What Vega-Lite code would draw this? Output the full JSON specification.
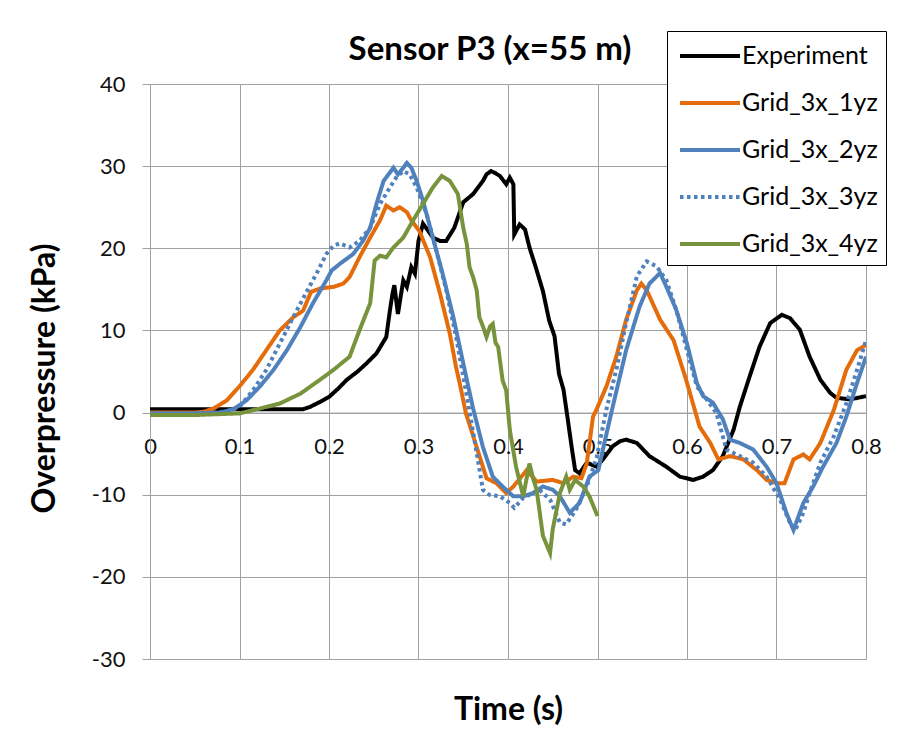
{
  "$schema": "https://vega.github.io/schema/vega-lite/v6.json",
  "width": 716,
  "height": 575,
  "autosize": {"type": "none"},
  "padding": {"left": 150, "top": 84, "right": 38, "bottom": 73},
  "background": "white",
  "title": {
    "text": "Sensor P3 (x=55 m)",
    "font": "Lato",
    "fontSize": 33,
    "fontWeight": "bold",
    "color": "black",
    "anchor": "middle",
    "dx": -18,
    "offset": -36
  },
  "data": {
    "values": [
      {"series": "Experiment", "time": 0, "pressure": 0.4},
      {"series": "Experiment", "time": 0.05, "pressure": 0.4},
      {"series": "Experiment", "time": 0.1, "pressure": 0.4},
      {"series": "Experiment", "time": 0.15, "pressure": 0.4},
      {"series": "Experiment", "time": 0.171, "pressure": 0.4},
      {"series": "Experiment", "time": 0.179, "pressure": 0.7},
      {"series": "Experiment", "time": 0.19, "pressure": 1.3},
      {"series": "Experiment", "time": 0.2, "pressure": 1.9},
      {"series": "Experiment", "time": 0.21, "pressure": 2.9},
      {"series": "Experiment", "time": 0.22, "pressure": 4.0},
      {"series": "Experiment", "time": 0.232, "pressure": 5.0},
      {"series": "Experiment", "time": 0.242, "pressure": 6.0},
      {"series": "Experiment", "time": 0.253, "pressure": 7.2},
      {"series": "Experiment", "time": 0.264, "pressure": 9.2},
      {"series": "Experiment", "time": 0.268, "pressure": 12.4},
      {"series": "Experiment", "time": 0.271, "pressure": 14.5},
      {"series": "Experiment", "time": 0.273, "pressure": 15.5},
      {"series": "Experiment", "time": 0.277, "pressure": 12.0},
      {"series": "Experiment", "time": 0.283, "pressure": 16.1},
      {"series": "Experiment", "time": 0.287, "pressure": 15.3},
      {"series": "Experiment", "time": 0.292, "pressure": 17.7},
      {"series": "Experiment", "time": 0.296, "pressure": 16.9},
      {"series": "Experiment", "time": 0.3, "pressure": 20.9},
      {"series": "Experiment", "time": 0.305, "pressure": 23.0},
      {"series": "Experiment", "time": 0.311, "pressure": 22.1},
      {"series": "Experiment", "time": 0.316, "pressure": 21.3},
      {"series": "Experiment", "time": 0.324, "pressure": 20.9},
      {"series": "Experiment", "time": 0.331, "pressure": 20.9},
      {"series": "Experiment", "time": 0.34, "pressure": 22.5},
      {"series": "Experiment", "time": 0.35, "pressure": 25.6},
      {"series": "Experiment", "time": 0.361, "pressure": 26.6},
      {"series": "Experiment", "time": 0.372, "pressure": 28.2},
      {"series": "Experiment", "time": 0.376, "pressure": 29.0},
      {"series": "Experiment", "time": 0.381, "pressure": 29.4},
      {"series": "Experiment", "time": 0.385, "pressure": 29.2},
      {"series": "Experiment", "time": 0.391, "pressure": 28.8},
      {"series": "Experiment", "time": 0.398, "pressure": 27.8},
      {"series": "Experiment", "time": 0.402, "pressure": 28.6},
      {"series": "Experiment", "time": 0.406, "pressure": 27.8},
      {"series": "Experiment", "time": 0.407, "pressure": 21.7},
      {"series": "Experiment", "time": 0.413, "pressure": 22.9},
      {"series": "Experiment", "time": 0.419, "pressure": 22.3},
      {"series": "Experiment", "time": 0.424, "pressure": 20.1},
      {"series": "Experiment", "time": 0.431, "pressure": 17.7},
      {"series": "Experiment", "time": 0.439, "pressure": 14.8},
      {"series": "Experiment", "time": 0.446, "pressure": 11.2},
      {"series": "Experiment", "time": 0.452, "pressure": 9.3},
      {"series": "Experiment", "time": 0.457, "pressure": 4.7},
      {"series": "Experiment", "time": 0.462, "pressure": 2.8},
      {"series": "Experiment", "time": 0.467, "pressure": -1.0},
      {"series": "Experiment", "time": 0.471, "pressure": -4.1},
      {"series": "Experiment", "time": 0.475, "pressure": -7.0},
      {"series": "Experiment", "time": 0.48, "pressure": -7.4},
      {"series": "Experiment", "time": 0.488, "pressure": -6.1},
      {"series": "Experiment", "time": 0.499, "pressure": -6.6},
      {"series": "Experiment", "time": 0.506, "pressure": -5.7},
      {"series": "Experiment", "time": 0.517, "pressure": -4.1},
      {"series": "Experiment", "time": 0.525, "pressure": -3.5},
      {"series": "Experiment", "time": 0.532, "pressure": -3.3},
      {"series": "Experiment", "time": 0.544, "pressure": -3.7},
      {"series": "Experiment", "time": 0.558, "pressure": -5.3},
      {"series": "Experiment", "time": 0.577, "pressure": -6.6},
      {"series": "Experiment", "time": 0.592, "pressure": -7.8},
      {"series": "Experiment", "time": 0.607, "pressure": -8.2},
      {"series": "Experiment", "time": 0.618, "pressure": -7.8},
      {"series": "Experiment", "time": 0.629, "pressure": -7.0},
      {"series": "Experiment", "time": 0.64, "pressure": -5.3},
      {"series": "Experiment", "time": 0.652, "pressure": -2.1},
      {"series": "Experiment", "time": 0.659, "pressure": 0.7},
      {"series": "Experiment", "time": 0.67, "pressure": 4.4},
      {"series": "Experiment", "time": 0.681, "pressure": 8.0},
      {"series": "Experiment", "time": 0.693, "pressure": 10.9},
      {"series": "Experiment", "time": 0.706, "pressure": 11.9},
      {"series": "Experiment", "time": 0.715, "pressure": 11.5},
      {"series": "Experiment", "time": 0.726, "pressure": 10.1},
      {"series": "Experiment", "time": 0.737, "pressure": 6.8},
      {"series": "Experiment", "time": 0.749, "pressure": 4.0},
      {"series": "Experiment", "time": 0.76, "pressure": 2.4},
      {"series": "Experiment", "time": 0.767, "pressure": 1.8},
      {"series": "Experiment", "time": 0.782, "pressure": 1.6},
      {"series": "Experiment", "time": 0.8, "pressure": 2.0},

      {"series": "Grid_3x_1yz", "time": 0, "pressure": 0},
      {"series": "Grid_3x_1yz", "time": 0.05, "pressure": 0},
      {"series": "Grid_3x_1yz", "time": 0.06, "pressure": 0.1},
      {"series": "Grid_3x_1yz", "time": 0.071, "pressure": 0.5},
      {"series": "Grid_3x_1yz", "time": 0.086, "pressure": 1.5},
      {"series": "Grid_3x_1yz", "time": 0.1, "pressure": 3.2},
      {"series": "Grid_3x_1yz", "time": 0.115, "pressure": 5.2},
      {"series": "Grid_3x_1yz", "time": 0.13, "pressure": 7.6},
      {"series": "Grid_3x_1yz", "time": 0.145, "pressure": 10.0},
      {"series": "Grid_3x_1yz", "time": 0.16, "pressure": 11.6},
      {"series": "Grid_3x_1yz", "time": 0.171, "pressure": 12.4},
      {"series": "Grid_3x_1yz", "time": 0.18, "pressure": 14.7},
      {"series": "Grid_3x_1yz", "time": 0.19, "pressure": 15.1},
      {"series": "Grid_3x_1yz", "time": 0.205, "pressure": 15.3},
      {"series": "Grid_3x_1yz", "time": 0.216, "pressure": 15.7},
      {"series": "Grid_3x_1yz", "time": 0.223, "pressure": 16.5},
      {"series": "Grid_3x_1yz", "time": 0.234, "pressure": 18.9},
      {"series": "Grid_3x_1yz", "time": 0.246, "pressure": 21.3},
      {"series": "Grid_3x_1yz", "time": 0.257, "pressure": 23.4},
      {"series": "Grid_3x_1yz", "time": 0.264, "pressure": 25.2},
      {"series": "Grid_3x_1yz", "time": 0.272, "pressure": 24.6},
      {"series": "Grid_3x_1yz", "time": 0.279, "pressure": 25.0},
      {"series": "Grid_3x_1yz", "time": 0.287, "pressure": 24.4},
      {"series": "Grid_3x_1yz", "time": 0.292, "pressure": 23.4},
      {"series": "Grid_3x_1yz", "time": 0.301, "pressure": 22.1},
      {"series": "Grid_3x_1yz", "time": 0.313, "pressure": 18.9},
      {"series": "Grid_3x_1yz", "time": 0.324, "pressure": 14.5},
      {"series": "Grid_3x_1yz", "time": 0.335, "pressure": 9.6},
      {"series": "Grid_3x_1yz", "time": 0.342, "pressure": 5.5},
      {"series": "Grid_3x_1yz", "time": 0.346, "pressure": 3.6},
      {"series": "Grid_3x_1yz", "time": 0.353, "pressure": -0.1},
      {"series": "Grid_3x_1yz", "time": 0.365, "pressure": -4.2},
      {"series": "Grid_3x_1yz", "time": 0.376, "pressure": -8.0},
      {"series": "Grid_3x_1yz", "time": 0.387, "pressure": -8.6},
      {"series": "Grid_3x_1yz", "time": 0.398, "pressure": -9.8},
      {"series": "Grid_3x_1yz", "time": 0.406, "pressure": -9.0},
      {"series": "Grid_3x_1yz", "time": 0.421, "pressure": -7.0},
      {"series": "Grid_3x_1yz", "time": 0.432, "pressure": -8.4},
      {"series": "Grid_3x_1yz", "time": 0.45, "pressure": -8.2},
      {"series": "Grid_3x_1yz", "time": 0.462, "pressure": -8.6},
      {"series": "Grid_3x_1yz", "time": 0.473, "pressure": -7.8},
      {"series": "Grid_3x_1yz", "time": 0.482, "pressure": -8.0},
      {"series": "Grid_3x_1yz", "time": 0.488, "pressure": -6.2},
      {"series": "Grid_3x_1yz", "time": 0.495, "pressure": -0.5},
      {"series": "Grid_3x_1yz", "time": 0.499, "pressure": 0.4},
      {"series": "Grid_3x_1yz", "time": 0.51, "pressure": 3.2},
      {"series": "Grid_3x_1yz", "time": 0.521, "pressure": 6.8},
      {"series": "Grid_3x_1yz", "time": 0.532, "pressure": 11.3},
      {"series": "Grid_3x_1yz", "time": 0.544, "pressure": 14.9},
      {"series": "Grid_3x_1yz", "time": 0.549, "pressure": 15.7},
      {"series": "Grid_3x_1yz", "time": 0.555, "pressure": 14.9},
      {"series": "Grid_3x_1yz", "time": 0.57, "pressure": 11.3},
      {"series": "Grid_3x_1yz", "time": 0.585, "pressure": 8.8},
      {"series": "Grid_3x_1yz", "time": 0.599, "pressure": 4.0},
      {"series": "Grid_3x_1yz", "time": 0.614, "pressure": -1.7},
      {"series": "Grid_3x_1yz", "time": 0.626, "pressure": -3.7},
      {"series": "Grid_3x_1yz", "time": 0.635, "pressure": -5.7},
      {"series": "Grid_3x_1yz", "time": 0.648, "pressure": -5.3},
      {"series": "Grid_3x_1yz", "time": 0.663, "pressure": -5.7},
      {"series": "Grid_3x_1yz", "time": 0.678, "pressure": -7.0},
      {"series": "Grid_3x_1yz", "time": 0.689, "pressure": -8.2},
      {"series": "Grid_3x_1yz", "time": 0.7, "pressure": -8.6},
      {"series": "Grid_3x_1yz", "time": 0.709, "pressure": -8.6},
      {"series": "Grid_3x_1yz", "time": 0.719, "pressure": -5.7},
      {"series": "Grid_3x_1yz", "time": 0.73, "pressure": -5.1},
      {"series": "Grid_3x_1yz", "time": 0.737, "pressure": -5.7},
      {"series": "Grid_3x_1yz", "time": 0.749, "pressure": -3.7},
      {"series": "Grid_3x_1yz", "time": 0.764, "pressure": 0.3},
      {"series": "Grid_3x_1yz", "time": 0.778, "pressure": 5.2},
      {"series": "Grid_3x_1yz", "time": 0.79, "pressure": 7.6},
      {"series": "Grid_3x_1yz", "time": 0.8, "pressure": 8.2},

      {"series": "Grid_3x_2yz", "time": 0, "pressure": -0.1},
      {"series": "Grid_3x_2yz", "time": 0.05, "pressure": -0.1},
      {"series": "Grid_3x_2yz", "time": 0.078, "pressure": 0},
      {"series": "Grid_3x_2yz", "time": 0.093, "pressure": 0.4},
      {"series": "Grid_3x_2yz", "time": 0.108, "pressure": 1.5},
      {"series": "Grid_3x_2yz", "time": 0.123, "pressure": 3.2},
      {"series": "Grid_3x_2yz", "time": 0.138, "pressure": 5.2},
      {"series": "Grid_3x_2yz", "time": 0.153, "pressure": 7.6},
      {"series": "Grid_3x_2yz", "time": 0.168, "pressure": 10.4},
      {"series": "Grid_3x_2yz", "time": 0.182, "pressure": 13.3},
      {"series": "Grid_3x_2yz", "time": 0.197, "pressure": 16.1},
      {"series": "Grid_3x_2yz", "time": 0.203, "pressure": 17.3},
      {"series": "Grid_3x_2yz", "time": 0.212, "pressure": 18.1},
      {"series": "Grid_3x_2yz", "time": 0.227, "pressure": 19.3},
      {"series": "Grid_3x_2yz", "time": 0.238, "pressure": 20.9},
      {"series": "Grid_3x_2yz", "time": 0.246, "pressure": 22.5},
      {"series": "Grid_3x_2yz", "time": 0.253, "pressure": 25.4},
      {"series": "Grid_3x_2yz", "time": 0.261, "pressure": 28.2},
      {"series": "Grid_3x_2yz", "time": 0.272, "pressure": 29.8},
      {"series": "Grid_3x_2yz", "time": 0.277, "pressure": 29.0},
      {"series": "Grid_3x_2yz", "time": 0.283, "pressure": 29.8},
      {"series": "Grid_3x_2yz", "time": 0.287, "pressure": 30.4},
      {"series": "Grid_3x_2yz", "time": 0.292, "pressure": 29.8},
      {"series": "Grid_3x_2yz", "time": 0.298, "pressure": 28.2},
      {"series": "Grid_3x_2yz", "time": 0.305, "pressure": 25.8},
      {"series": "Grid_3x_2yz", "time": 0.316, "pressure": 21.3},
      {"series": "Grid_3x_2yz", "time": 0.327, "pressure": 16.9},
      {"series": "Grid_3x_2yz", "time": 0.339, "pressure": 11.6},
      {"series": "Grid_3x_2yz", "time": 0.35, "pressure": 6.0},
      {"series": "Grid_3x_2yz", "time": 0.361, "pressure": 0.5},
      {"series": "Grid_3x_2yz", "time": 0.372, "pressure": -4.2},
      {"series": "Grid_3x_2yz", "time": 0.383, "pressure": -7.8},
      {"series": "Grid_3x_2yz", "time": 0.394, "pressure": -9.0},
      {"series": "Grid_3x_2yz", "time": 0.406, "pressure": -10.2},
      {"series": "Grid_3x_2yz", "time": 0.417, "pressure": -10.2},
      {"series": "Grid_3x_2yz", "time": 0.428, "pressure": -9.8},
      {"series": "Grid_3x_2yz", "time": 0.439, "pressure": -9.0},
      {"series": "Grid_3x_2yz", "time": 0.45, "pressure": -9.4},
      {"series": "Grid_3x_2yz", "time": 0.458, "pressure": -10.2},
      {"series": "Grid_3x_2yz", "time": 0.469, "pressure": -12.2},
      {"series": "Grid_3x_2yz", "time": 0.48, "pressure": -11.0},
      {"series": "Grid_3x_2yz", "time": 0.491, "pressure": -7.8},
      {"series": "Grid_3x_2yz", "time": 0.501, "pressure": -7.0},
      {"series": "Grid_3x_2yz", "time": 0.506, "pressure": -4.5},
      {"series": "Grid_3x_2yz", "time": 0.517, "pressure": 0.7},
      {"series": "Grid_3x_2yz", "time": 0.532, "pressure": 7.6},
      {"series": "Grid_3x_2yz", "time": 0.547, "pressure": 12.9},
      {"series": "Grid_3x_2yz", "time": 0.558, "pressure": 15.7},
      {"series": "Grid_3x_2yz", "time": 0.57, "pressure": 17.0},
      {"series": "Grid_3x_2yz", "time": 0.577, "pressure": 15.3},
      {"series": "Grid_3x_2yz", "time": 0.588, "pressure": 12.5},
      {"series": "Grid_3x_2yz", "time": 0.6, "pressure": 8.4},
      {"series": "Grid_3x_2yz", "time": 0.611, "pressure": 3.6},
      {"series": "Grid_3x_2yz", "time": 0.618, "pressure": 2.0},
      {"series": "Grid_3x_2yz", "time": 0.629, "pressure": 1.2},
      {"series": "Grid_3x_2yz", "time": 0.64, "pressure": -0.8},
      {"series": "Grid_3x_2yz", "time": 0.648, "pressure": -3.3},
      {"series": "Grid_3x_2yz", "time": 0.659, "pressure": -3.7},
      {"series": "Grid_3x_2yz", "time": 0.674, "pressure": -4.5},
      {"series": "Grid_3x_2yz", "time": 0.689, "pressure": -6.6},
      {"series": "Grid_3x_2yz", "time": 0.7, "pressure": -8.6},
      {"series": "Grid_3x_2yz", "time": 0.711, "pressure": -12.2},
      {"series": "Grid_3x_2yz", "time": 0.719, "pressure": -14.3},
      {"series": "Grid_3x_2yz", "time": 0.73, "pressure": -11.0},
      {"series": "Grid_3x_2yz", "time": 0.741, "pressure": -9.0},
      {"series": "Grid_3x_2yz", "time": 0.752, "pressure": -6.6},
      {"series": "Grid_3x_2yz", "time": 0.767, "pressure": -3.7},
      {"series": "Grid_3x_2yz", "time": 0.778, "pressure": -0.5},
      {"series": "Grid_3x_2yz", "time": 0.79, "pressure": 3.6},
      {"series": "Grid_3x_2yz", "time": 0.8, "pressure": 6.8},

      {"series": "Grid_3x_3yz", "time": 0, "pressure": -0.1},
      {"series": "Grid_3x_3yz", "time": 0.06, "pressure": -0.1},
      {"series": "Grid_3x_3yz", "time": 0.085, "pressure": 0.1},
      {"series": "Grid_3x_3yz", "time": 0.1, "pressure": 0.7},
      {"series": "Grid_3x_3yz", "time": 0.115, "pressure": 2.7},
      {"series": "Grid_3x_3yz", "time": 0.13, "pressure": 5.2},
      {"series": "Grid_3x_3yz", "time": 0.145, "pressure": 8.4},
      {"series": "Grid_3x_3yz", "time": 0.16, "pressure": 11.6},
      {"series": "Grid_3x_3yz", "time": 0.175, "pressure": 14.7},
      {"series": "Grid_3x_3yz", "time": 0.186, "pressure": 16.9},
      {"series": "Grid_3x_3yz", "time": 0.197, "pressure": 19.3},
      {"series": "Grid_3x_3yz", "time": 0.205, "pressure": 20.3},
      {"series": "Grid_3x_3yz", "time": 0.212, "pressure": 20.6},
      {"series": "Grid_3x_3yz", "time": 0.223, "pressure": 20.1},
      {"series": "Grid_3x_3yz", "time": 0.234, "pressure": 20.9},
      {"series": "Grid_3x_3yz", "time": 0.246, "pressure": 22.5},
      {"series": "Grid_3x_3yz", "time": 0.257, "pressure": 25.4},
      {"series": "Grid_3x_3yz", "time": 0.268, "pressure": 27.4},
      {"series": "Grid_3x_3yz", "time": 0.275, "pressure": 28.6},
      {"series": "Grid_3x_3yz", "time": 0.283, "pressure": 29.4},
      {"series": "Grid_3x_3yz", "time": 0.29, "pressure": 29.0},
      {"series": "Grid_3x_3yz", "time": 0.298, "pressure": 27.4},
      {"series": "Grid_3x_3yz", "time": 0.309, "pressure": 24.2},
      {"series": "Grid_3x_3yz", "time": 0.32, "pressure": 19.7},
      {"series": "Grid_3x_3yz", "time": 0.331, "pressure": 14.9},
      {"series": "Grid_3x_3yz", "time": 0.342, "pressure": 9.2},
      {"series": "Grid_3x_3yz", "time": 0.354, "pressure": 2.0},
      {"series": "Grid_3x_3yz", "time": 0.362, "pressure": -3.0},
      {"series": "Grid_3x_3yz", "time": 0.372, "pressure": -9.4},
      {"series": "Grid_3x_3yz", "time": 0.379, "pressure": -10.0},
      {"series": "Grid_3x_3yz", "time": 0.391, "pressure": -10.2},
      {"series": "Grid_3x_3yz", "time": 0.402, "pressure": -11.0},
      {"series": "Grid_3x_3yz", "time": 0.407, "pressure": -11.6},
      {"series": "Grid_3x_3yz", "time": 0.417, "pressure": -10.4},
      {"series": "Grid_3x_3yz", "time": 0.435, "pressure": -9.4},
      {"series": "Grid_3x_3yz", "time": 0.447, "pressure": -10.6},
      {"series": "Grid_3x_3yz", "time": 0.458, "pressure": -13.4},
      {"series": "Grid_3x_3yz", "time": 0.465, "pressure": -13.6},
      {"series": "Grid_3x_3yz", "time": 0.476, "pressure": -11.8},
      {"series": "Grid_3x_3yz", "time": 0.488, "pressure": -9.0},
      {"series": "Grid_3x_3yz", "time": 0.499, "pressure": -5.5},
      {"series": "Grid_3x_3yz", "time": 0.51, "pressure": 0.4},
      {"series": "Grid_3x_3yz", "time": 0.521, "pressure": 5.2},
      {"series": "Grid_3x_3yz", "time": 0.532, "pressure": 10.9},
      {"series": "Grid_3x_3yz", "time": 0.544, "pressure": 16.6},
      {"series": "Grid_3x_3yz", "time": 0.555, "pressure": 18.4},
      {"series": "Grid_3x_3yz", "time": 0.566, "pressure": 17.8},
      {"series": "Grid_3x_3yz", "time": 0.577, "pressure": 16.1},
      {"series": "Grid_3x_3yz", "time": 0.588, "pressure": 12.5},
      {"series": "Grid_3x_3yz", "time": 0.6, "pressure": 7.6},
      {"series": "Grid_3x_3yz", "time": 0.611, "pressure": 3.2},
      {"series": "Grid_3x_3yz", "time": 0.622, "pressure": 1.6},
      {"series": "Grid_3x_3yz", "time": 0.633, "pressure": -0.1},
      {"series": "Grid_3x_3yz", "time": 0.644, "pressure": -4.5},
      {"series": "Grid_3x_3yz", "time": 0.659, "pressure": -5.3},
      {"series": "Grid_3x_3yz", "time": 0.674, "pressure": -6.1},
      {"series": "Grid_3x_3yz", "time": 0.689, "pressure": -7.8},
      {"series": "Grid_3x_3yz", "time": 0.704, "pressure": -10.6},
      {"series": "Grid_3x_3yz", "time": 0.715, "pressure": -13.4},
      {"series": "Grid_3x_3yz", "time": 0.721, "pressure": -14.3},
      {"series": "Grid_3x_3yz", "time": 0.73, "pressure": -12.2},
      {"series": "Grid_3x_3yz", "time": 0.737, "pressure": -9.8},
      {"series": "Grid_3x_3yz", "time": 0.749, "pressure": -6.1},
      {"series": "Grid_3x_3yz", "time": 0.764, "pressure": -2.9},
      {"series": "Grid_3x_3yz", "time": 0.778, "pressure": 1.1},
      {"series": "Grid_3x_3yz", "time": 0.79, "pressure": 5.2},
      {"series": "Grid_3x_3yz", "time": 0.8, "pressure": 8.8},

      {"series": "Grid_3x_4yz", "time": 0, "pressure": -0.3},
      {"series": "Grid_3x_4yz", "time": 0.05, "pressure": -0.3},
      {"series": "Grid_3x_4yz", "time": 0.1, "pressure": -0.1},
      {"series": "Grid_3x_4yz", "time": 0.123, "pressure": 0.5},
      {"series": "Grid_3x_4yz", "time": 0.145, "pressure": 1.1},
      {"series": "Grid_3x_4yz", "time": 0.168, "pressure": 2.3},
      {"series": "Grid_3x_4yz", "time": 0.19, "pressure": 4.0},
      {"series": "Grid_3x_4yz", "time": 0.205, "pressure": 5.2},
      {"series": "Grid_3x_4yz", "time": 0.223, "pressure": 6.8},
      {"series": "Grid_3x_4yz", "time": 0.234, "pressure": 10.0},
      {"series": "Grid_3x_4yz", "time": 0.246, "pressure": 13.3},
      {"series": "Grid_3x_4yz", "time": 0.251, "pressure": 18.5},
      {"series": "Grid_3x_4yz", "time": 0.257, "pressure": 19.1},
      {"series": "Grid_3x_4yz", "time": 0.264, "pressure": 18.9},
      {"series": "Grid_3x_4yz", "time": 0.272, "pressure": 20.1},
      {"series": "Grid_3x_4yz", "time": 0.283, "pressure": 21.3},
      {"series": "Grid_3x_4yz", "time": 0.294, "pressure": 23.4},
      {"series": "Grid_3x_4yz", "time": 0.305, "pressure": 25.4},
      {"series": "Grid_3x_4yz", "time": 0.316, "pressure": 27.4},
      {"series": "Grid_3x_4yz", "time": 0.326, "pressure": 28.8},
      {"series": "Grid_3x_4yz", "time": 0.335, "pressure": 28.2},
      {"series": "Grid_3x_4yz", "time": 0.344, "pressure": 26.6},
      {"series": "Grid_3x_4yz", "time": 0.35, "pressure": 22.5},
      {"series": "Grid_3x_4yz", "time": 0.354, "pressure": 20.5},
      {"series": "Grid_3x_4yz", "time": 0.357, "pressure": 17.7},
      {"series": "Grid_3x_4yz", "time": 0.361, "pressure": 16.5},
      {"series": "Grid_3x_4yz", "time": 0.365, "pressure": 14.9},
      {"series": "Grid_3x_4yz", "time": 0.368, "pressure": 11.6},
      {"series": "Grid_3x_4yz", "time": 0.372, "pressure": 10.5},
      {"series": "Grid_3x_4yz", "time": 0.376, "pressure": 9.2},
      {"series": "Grid_3x_4yz", "time": 0.38, "pressure": 10.5},
      {"series": "Grid_3x_4yz", "time": 0.383, "pressure": 10.8},
      {"series": "Grid_3x_4yz", "time": 0.386, "pressure": 8.5},
      {"series": "Grid_3x_4yz", "time": 0.389, "pressure": 8.0},
      {"series": "Grid_3x_4yz", "time": 0.394, "pressure": 3.9},
      {"series": "Grid_3x_4yz", "time": 0.398, "pressure": 2.7},
      {"series": "Grid_3x_4yz", "time": 0.402, "pressure": -2.1},
      {"series": "Grid_3x_4yz", "time": 0.409, "pressure": -6.6},
      {"series": "Grid_3x_4yz", "time": 0.417, "pressure": -10.2},
      {"series": "Grid_3x_4yz", "time": 0.424, "pressure": -6.2},
      {"series": "Grid_3x_4yz", "time": 0.428, "pressure": -8.0},
      {"series": "Grid_3x_4yz", "time": 0.432, "pressure": -9.4},
      {"series": "Grid_3x_4yz", "time": 0.439, "pressure": -15.0},
      {"series": "Grid_3x_4yz", "time": 0.447, "pressure": -17.1},
      {"series": "Grid_3x_4yz", "time": 0.45, "pressure": -14.2},
      {"series": "Grid_3x_4yz", "time": 0.458, "pressure": -9.8},
      {"series": "Grid_3x_4yz", "time": 0.465, "pressure": -7.8},
      {"series": "Grid_3x_4yz", "time": 0.469, "pressure": -9.4},
      {"series": "Grid_3x_4yz", "time": 0.475, "pressure": -8.2},
      {"series": "Grid_3x_4yz", "time": 0.484, "pressure": -9.0},
      {"series": "Grid_3x_4yz", "time": 0.491, "pressure": -10.2},
      {"series": "Grid_3x_4yz", "time": 0.5, "pressure": -12.6}
    ]
  },
  "mark": {"type": "line", "strokeWidth": 4, "clip": true},
  "encoding": {
    "x": {
      "field": "time",
      "type": "quantitative",
      "title": "Time (s)",
      "scale": {"domain": [0, 0.8], "nice": false, "zero": false},
      "axis": {
        "values": [0, 0.1, 0.2, 0.3, 0.4, 0.5, 0.6, 0.7, 0.8],
        "labelExpr": "toString(datum.value)",
        "offset": -246.43,
        "ticks": false,
        "tickSize": 0,
        "labelPadding": 24,
        "labelFlush": false,
        "titleY": 307,
        "titleBaseline": "alphabetic"
      }
    },
    "y": {
      "field": "pressure",
      "type": "quantitative",
      "title": "Overpressure (kPa)",
      "scale": {"domain": [-30, 40], "nice": false, "zero": false},
      "axis": {
        "values": [-30, -20, -10, 0, 10, 20, 30, 40],
        "labelExpr": "toString(datum.value)",
        "ticks": true,
        "tickSize": 8,
        "labelPadding": 17,
        "titlePadding": 30,
        "titleY": 294
      }
    },
    "color": {
      "field": "series",
      "type": "nominal",
      "title": null,
      "scale": {
        "domain": ["Experiment", "Grid_3x_1yz", "Grid_3x_2yz", "Grid_3x_3yz", "Grid_3x_4yz"],
        "range": ["#000000", "#E46C0A", "#4F81BD", "#4F81BD", "#77933C"]
      },
      "legend": {"orient": "none", "legendX": 517, "legendY": -53}
    },
    "strokeDash": {
      "field": "series",
      "type": "nominal",
      "title": null,
      "scale": {
        "domain": ["Experiment", "Grid_3x_1yz", "Grid_3x_2yz", "Grid_3x_3yz", "Grid_3x_4yz"],
        "range": [[1, 0], [1, 0], [1, 0], [3.5, 3.5], [1, 0]]
      },
      "legend": {"orient": "none", "legendX": 517, "legendY": -53}
    }
  },
  "config": {
    "font": "Lato",
    "view": {"stroke": null},
    "axis": {
      "domainColor": "#A0A0A0",
      "gridColor": "#A0A0A0",
      "tickColor": "#A0A0A0",
      "gridWidth": 1,
      "labelFont": "Lato",
      "labelFontSize": 22,
      "labelColor": "#111111",
      "titleFont": "Lato",
      "titleFontSize": 32,
      "titleFontWeight": "bold",
      "titleColor": "#000000"
    },
    "legend": {
      "symbolType": "M-2,0H2",
      "symbolSize": 900,
      "symbolStrokeWidth": 4,
      "symbolOffset": 18,
      "labelFont": "Lato",
      "labelFontSize": 25,
      "labelColor": "#000000",
      "labelOffset": 15,
      "strokeColor": "#000000",
      "fillColor": "#FFFFFF",
      "padding": 8,
      "rowPadding": 17
    }
  }
}
